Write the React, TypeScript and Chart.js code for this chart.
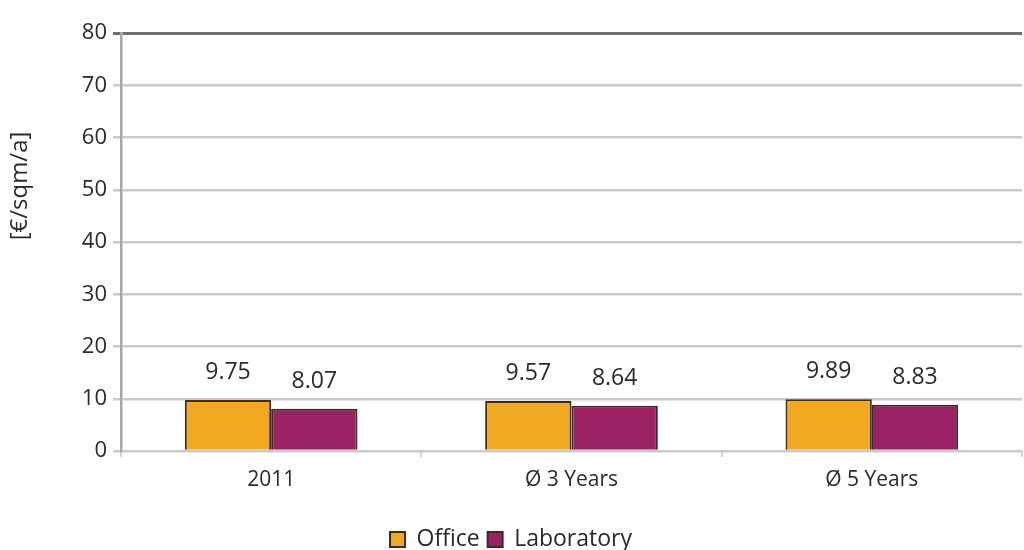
import React, { useEffect, useRef } from "react";
import { Chart, registerables } from "chart.js";

Chart.register(...registerables);

// Rent data per category
const categories = ["2011", "Ø 3 Years", "Ø 5 Years"];
const officeValues = [9.75, 9.57, 9.89];
const laboratoryValues = [8.07, 8.64, 8.83];
const yTicks = [0, 10, 20, 30, 40, 50, 60, 70, 80];
const yAxisTitle = "[€/sqm/a]";

const FONT = "'Open Sans', 'DejaVu Sans', sans-serif";
const TEXT = "#2a2a2a";

// Numeric labels above each bar
const valueLabels = {
  id: "valueLabels",
  afterDatasetsDraw(chart: any) {
    const ctx = chart.ctx;
    ctx.save();
    ctx.font = `23px ${FONT}`;
    ctx.fillStyle = TEXT;
    ctx.textAlign = "center";
    ctx.textBaseline = "bottom";
    chart.data.datasets.forEach((ds: any, di: number) => {
      const meta = chart.getDatasetMeta(di);
      meta.data.forEach((bar: any, i: number) => {
        const v = ds.data[i];
        ctx.fillText(v.toFixed(2), bar.x, bar.y - 16);
      });
    });
    ctx.restore();
  },
};

// Rotated unit label on the left
const unitTitle = {
  id: "unitTitle",
  afterDraw(chart: any) {
    const ctx = chart.ctx;
    ctx.save();
    ctx.font = `24px ${FONT}`;
    ctx.fillStyle = TEXT;
    ctx.textAlign = "center";
    ctx.textBaseline = "middle";
    ctx.translate(20, 186);
    ctx.rotate(-Math.PI / 2);
    ctx.fillText(yAxisTitle, 0, 0);
    ctx.restore();
  },
};

// Nudge the bottom legend a little lower after layout
const legendOffset = {
  id: "legendOffset",
  afterLayout(chart: any) {
    const lg = chart.legend;
    if (lg) {
      lg.top += 11;
      lg.bottom += 11;
    }
  },
};

export default function App() {
  const ref = useRef<HTMLCanvasElement | null>(null);

  useEffect(() => {
    if (!ref.current) return;
    const chart = new Chart(ref.current, {
      type: "bar",
      data: {
        labels: categories,
        datasets: [
          {
            label: "Office",
            data: officeValues,
            backgroundColor: "#F0A921",
            borderColor: "#3b2c22",
            borderWidth: 2,
            categoryPercentage: 0.575,
            barPercentage: 1,
          },
          {
            label: "Laboratory",
            data: laboratoryValues,
            backgroundColor: "#9C2265",
            borderColor: "#3b2c22",
            borderWidth: 2,
            categoryPercentage: 0.575,
            barPercentage: 1,
          },
        ],
      },
      options: {
        animation: false,
        responsive: false,
        maintainAspectRatio: false,
        layout: { padding: { top: 33, right: 2, left: 0, bottom: 0 } },
        plugins: {
          legend: {
            position: "bottom",
            labels: {
              font: { family: FONT, size: 23 },
              color: TEXT,
              boxWidth: 15,
              boxHeight: 15,
              padding: 8,
            },
          },
          tooltip: { enabled: false },
        },
        scales: {
          x: {
            afterFit: (scale: any) => {
              scale.height = 58;
            },
            grid: {
              drawOnChartArea: false,
              drawTicks: true,
              tickLength: 6,
              color: "#d4d4d4",
              lineWidth: 2,
            },
            border: { display: false },
            ticks: {
              font: { family: FONT, size: 21 },
              color: TEXT,
              padding: 10,
            },
          },
          y: {
            min: 0,
            max: 80,
            afterFit: (scale: any) => {
              scale.width = 121;
            },
            afterBuildTicks: (scale: any) => {
              scale.ticks = yTicks.map((v) => ({ value: v }));
            },
            grid: {
              color: (c: any) => (c.tick && c.tick.value === 80 ? "#707070" : "#cacaca"),
              lineWidth: (c: any) => (c.tick && c.tick.value === 80 ? 3 : 2.5),
              tickLength: 8,
            },
            border: { color: "#a6a6a6", width: 2.5 },
            ticks: {
              font: { family: FONT, size: 22 },
              color: TEXT,
              padding: 6,
            },
          },
        },
      },
      plugins: [valueLabels, unitTitle, legendOffset],
    });
    return () => chart.destroy();
  }, []);

  return (
    <div style={{ position: "fixed", left: 0, top: 0, width: 1024, height: 550, background: "#fff" }}>
      <canvas ref={ref} width={1024} height={550} style={{ display: "block" }} />
    </div>
  );
}
